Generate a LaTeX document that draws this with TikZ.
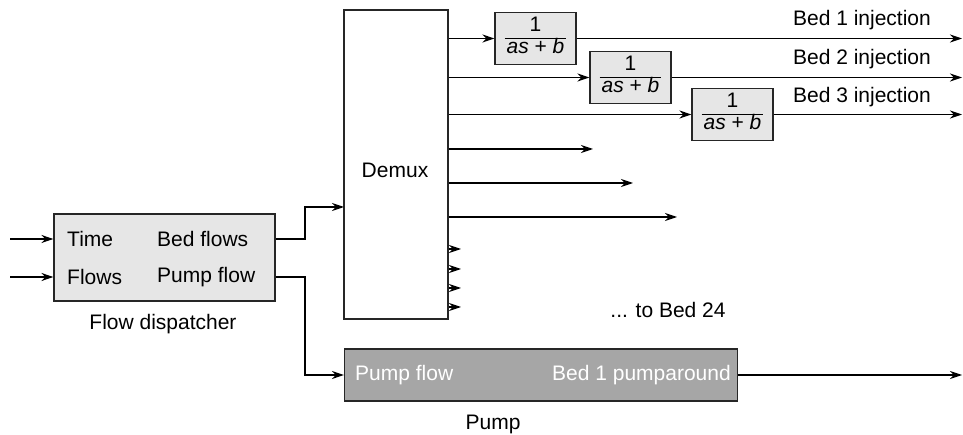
\documentclass[tikz,border=0pt]{standalone}
\usepackage{fontspec}
\setmainfont{Liberation Sans}
\usetikzlibrary{arrows.meta}
\definecolor{lightbox}{HTML}{E6E6E6}
\definecolor{pumpgray}{HTML}{A6A6A6}
\begin{document}
\begin{tikzpicture}[x=1pt,y=-1pt,font=\fontsize{21}{24}\selectfont,
  blk/.style={draw=black!85,line width=1.1pt,fill=lightbox,inner sep=0pt},
  fracbox/.style={blk,minimum width=81pt,minimum height=52pt},
  arr/.style={line width=1.2pt,-{Stealth[length=12pt,width=8pt]}},
  lbl/.style={inner sep=0pt}]
\useasboundingbox (0,0) rectangle (963,435);
% demux
\node[draw=black!85,line width=1.1pt,fill=white,minimum width=104pt,minimum height=309pt,inner sep=0pt] (dm) at (396,164.5) {};
\node[lbl] (dmt) at (395,170) {Demux};
% transfer function boxes
\newcommand{\tfrac}{{\renewcommand{\arraystretch}{0.85}\setlength{\arrayrulewidth}{1pt}\setlength{\tabcolsep}{2pt}\begin{tabular}{c}1\\\hline\textit{as} + \textit{b}\end{tabular}}}
\node[fracbox] (f1) at (535.5,38.5) {\tfrac};
\node[fracbox] (f2) at (630.5,77.5) {\tfrac};
\node[fracbox] (f3) at (732.5,114.5) {\tfrac};
\coordinate (o1) at (962,38.5);
\coordinate (o2) at (962,77.5);
\coordinate (o3) at (962,114.5);
\draw[arr] (dm.east |- f1.west) -- (f1.west);
\draw[arr] (dm.east |- f2.west) -- (f2.west);
\draw[arr] (dm.east |- f3.west) -- (f3.west);
\draw[arr] (f1.east) -- (o1);
\draw[arr] (f2.east) -- (o2);
\draw[arr] (f3.east) -- (o3);
\node[lbl] (b1) at (862,20) {Bed 1 injection};
\node[lbl] (b2) at (862,59) {Bed 2 injection};
\node[lbl] (b3) at (862,97) {Bed 3 injection};
% further outputs
\coordinate (e1) at (593,149);
\coordinate (e2) at (633,183);
\coordinate (e3) at (677,217);
\draw[arr] (dm.east |- e1) -- (e1);
\draw[arr] (dm.east |- e2) -- (e2);
\draw[arr] (dm.east |- e3) -- (e3);
\coordinate (s1) at (461,249);
\coordinate (s2) at (461,269);
\coordinate (s3) at (461,288);
\coordinate (s4) at (461,307);
\draw[arr] (dm.east |- s1) -- (s1);
\draw[arr] (dm.east |- s2) -- (s2);
\draw[arr] (dm.east |- s3) -- (s3);
\draw[arr] (dm.east |- s4) -- (s4);
\node[lbl] (tb) at (668,310) {... to Bed 24};
% flow dispatcher
\node[blk,minimum width=221pt,minimum height=87pt] (fd) at (164.5,257.5) {};
\node[lbl,anchor=west] (tt) at (67,239) {Time};
\node[lbl,anchor=west] (tf) at (67,277) {Flows};
\node[lbl,anchor=west] (bf) at (157,239) {Bed flows};
\node[lbl,anchor=west] (pf) at (157,277) {Pump flow};
\node[lbl] (fdl) at (163,324) {Flow dispatcher};
\coordinate (i1) at (10,239);
\coordinate (i2) at (10,277);
\draw[arr] (i1) -- (fd.west |- i1);
\draw[arr] (i2) -- (fd.west |- i2);
% connectors to demux and pump
\coordinate (j1) at (305,239);
\coordinate (dmin) at (344,207);
\draw[arr] (fd.east |- j1) -- (j1) |- (dmin);
\node[draw=black!85,line width=1.1pt,fill=pumpgray,minimum width=393pt,minimum height=52pt,inner sep=0pt] (pm) at (541,375) {};
\coordinate (j2) at (305,277);
\draw[arr] (fd.east |- j2) -- (j2) |- (pm.west);
\node[lbl,anchor=west,text=white] (ppf) at (355,375) {Pump flow};
\node[lbl,anchor=east,text=white] (pbp) at (731,375) {Bed 1 pumparound};
\node[lbl] (pml) at (493,424) {Pump};
\coordinate (o4) at (962,375);
\draw[arr] (pm.east) -- (o4);
\end{tikzpicture}
\end{document}
